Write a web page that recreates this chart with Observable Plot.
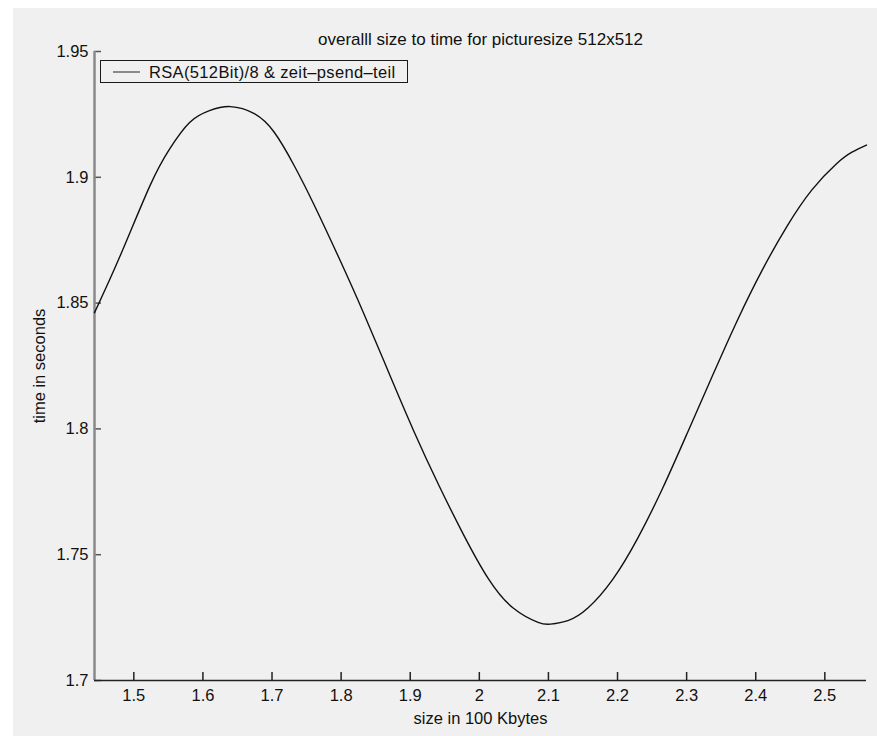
<!DOCTYPE html>
<html>
<head>
<meta charset="utf-8">
<script src="https://cdn.jsdelivr.net/npm/d3@7"></script>
<script src="https://cdn.jsdelivr.net/npm/@observablehq/plot@0.6"></script>
<style>
  html, body { margin: 0; padding: 0; background: #ffffff; }
  #fig {
    position: absolute; left: 13px; top: 8px; width: 864px; height: 728px;
    background: #f0f0f0; overflow: hidden;
    font-family: "Liberation Sans", Arial, Helvetica, sans-serif;
  }
  #legend {
    position: absolute; left: 87px; top: 52px; width: 306px; height: 21px;
    border: 1px solid #1a1a1a; background: #f0f0f0;
    font-size: 16.5px; color: #111; line-height: 22px; white-space: nowrap;
    letter-spacing: 0.35px;
  }
  #legend .swatch {
    position: absolute; left: 12px; top: 10px; width: 27px; height: 0;
    border-top: 2px solid #8a8a8a;
  }
  #legend .label { position: absolute; left: 48px; top: 0; }
</style>
</head>
<body>
<div id="fig">
  <div id="chart"></div>
  <div id="legend"><span class="swatch"></span><span class="label"></span></div>
</div>
<script>
// Chart text
const titleText = "overalll size to time for picturesize 512x512";
const xLabel = "size in 100 Kbytes";
const yLabel = "time in seconds";
const seriesName = "RSA(512Bit)/8 & zeit–psend–teil";

// Axis ranges and ticks
const xDomain = [1.4431, 2.5603];
const yDomain = [1.7, 1.95];
const xTicks = [1.5, 1.6, 1.7, 1.8, 1.9, 2.0, 2.1, 2.2, 2.3, 2.4, 2.5];
const yTicks = [1.7, 1.75, 1.8, 1.85, 1.9, 1.95];

// Measured series: size (100 KB) and time (s)
const sizes = [1.4431, 1.4798, 1.5231, 1.5519, 1.5807, 1.6095, 1.6398, 1.6744, 1.7032,
  1.7320, 1.7608, 1.7968, 1.8329, 1.8689, 1.9049, 1.9409, 1.9769, 2.0130, 2.0490,
  2.0850, 2.1030, 2.1282, 2.1571, 2.1931, 2.2291, 2.2651, 2.3012, 2.3372, 2.3732,
  2.4092, 2.4452, 2.4813, 2.5173, 2.5393, 2.5603];
const times = [1.8462, 1.8685, 1.8965, 1.9113, 1.9218, 1.9265, 1.9281, 1.9253, 1.9179,
  1.9047, 1.8891, 1.8680, 1.8458, 1.8224, 1.7993, 1.7779, 1.7581, 1.7405, 1.7288,
  1.7231, 1.7224, 1.7238, 1.7288, 1.7402, 1.7565, 1.7763, 1.7985, 1.8210, 1.8430,
  1.8630, 1.8805, 1.8950, 1.9055, 1.9100, 1.9128];

const data = sizes.map((s, i) => ({size: s, time: times[i]}));

const W = 864, H = 728;
const M = {left: 81, right: 11, top: 43, bottom: 56};
const innerW = W - M.left - M.right;
const innerH = H - M.top - M.bottom;

const chart = Plot.plot({
  width: W,
  height: H,
  marginLeft: M.left,
  marginRight: M.right,
  marginTop: M.top,
  marginBottom: M.bottom,
  style: {background: "transparent", fontFamily: "Liberation Sans, Arial, Helvetica, sans-serif", fontSize: "16.5px", color: "#111"},
  x: {domain: xDomain},
  y: {domain: yDomain},
  marks: [
    // tick labels and axis titles
    Plot.axisX({ticks: xTicks, tickSize: 0, tickPadding: 9, tickFormat: d => String(d),
      label: xLabel, labelAnchor: "center", labelArrow: "none", labelOffset: 43, fontSize: 16.5}),
    Plot.axisY({ticks: yTicks, tickSize: 0, tickPadding: 6, tickFormat: d => String(d),
      label: yLabel, labelAnchor: "center", labelArrow: "none", labelOffset: 61, fontSize: 16.5}),
    // short inward tick marks along the two axes
    Plot.tickX(xTicks, {x: d => d, insetTop: innerH - 8, stroke: "#222", strokeWidth: 1.5}),
    Plot.tickY(yTicks, {y: d => d, insetRight: innerW - 7, stroke: "#555", strokeWidth: 1.5}),
    // axis lines
    Plot.ruleX([xDomain[0]], {stroke: "#8a8a8a", strokeWidth: 2.5}),
    Plot.ruleY([yDomain[0]], {stroke: "#222", strokeWidth: 1.5}),
    // the series
    Plot.line(data, {x: "size", y: "time", curve: "natural", stroke: "#111", strokeWidth: 1.4}),
    // title
    Plot.text([titleText], {text: d => d, frameAnchor: "top", dy: -19, fontSize: 17, fill: "#111"})
  ]
});
document.getElementById("chart").appendChild(chart);
document.querySelector("#legend .label").textContent = seriesName;
</script>
</body>
</html>
